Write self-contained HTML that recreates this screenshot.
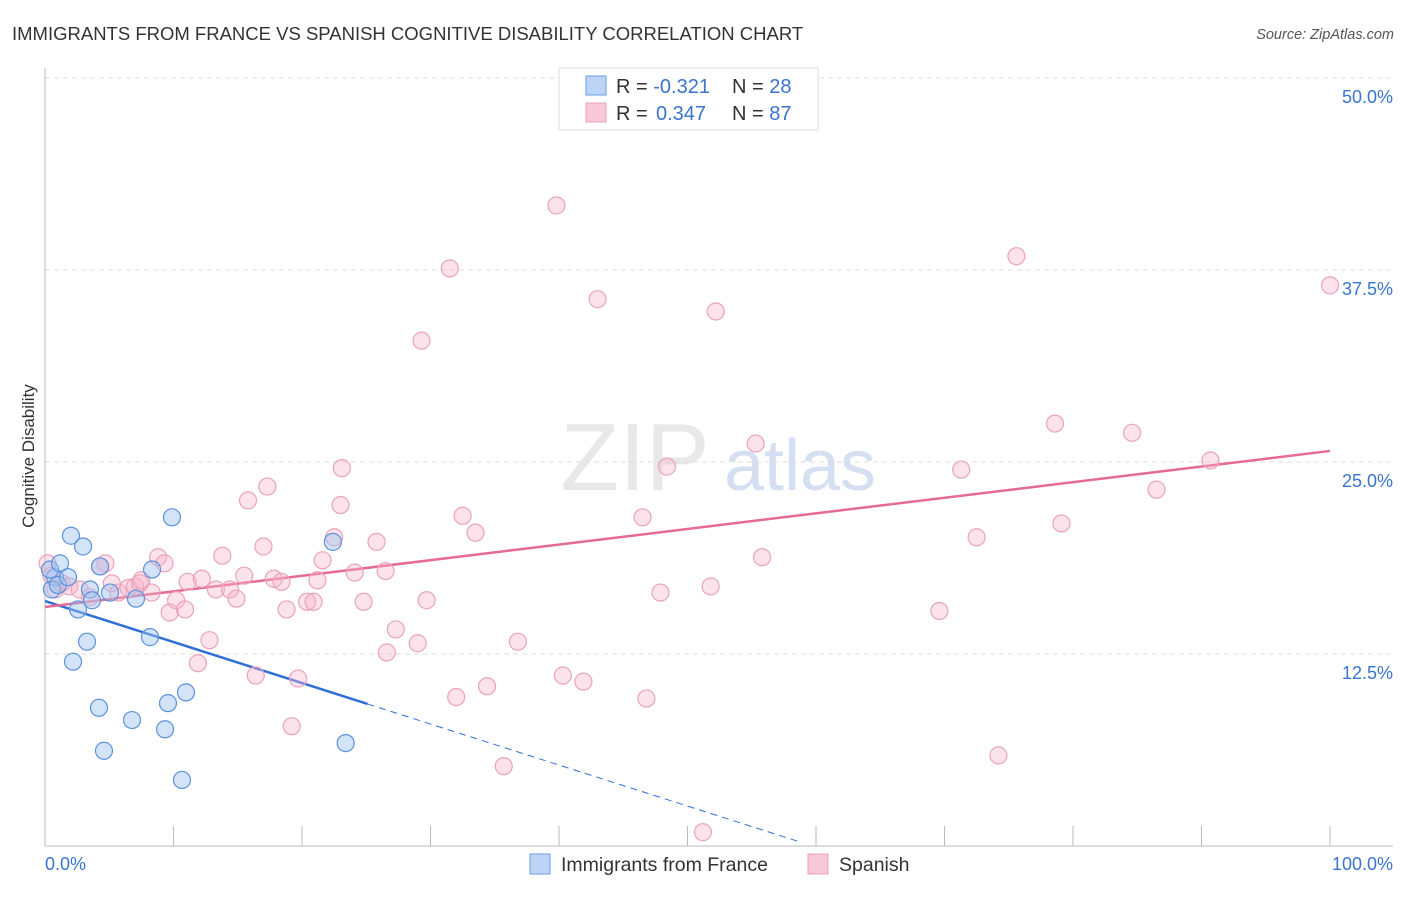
<!DOCTYPE html>
<html><head><meta charset="utf-8"><style>
body{margin:0;background:#fff;font-family:"Liberation Sans",sans-serif;}
svg text{font-family:"Liberation Sans",sans-serif;}
</style></head><body>
<svg id="chart" width="1406" height="892" xmlns="http://www.w3.org/2000/svg">
<text x="12" y="40" font-size="18.5" fill="#333">IMMIGRANTS FROM FRANCE VS SPANISH COGNITIVE DISABILITY CORRELATION CHART</text>
<text x="1394" y="39" font-size="14.5" fill="#555" text-anchor="end" font-style="italic">Source: ZipAtlas.com</text>
<g>
<text x="635" y="490" font-size="96" fill="#d9d9d9" font-family="Liberation Serif" text-anchor="middle" opacity="0.6">ZIP</text>
<text x="800" y="490" font-size="72" fill="#b8cdea" text-anchor="middle" opacity="0.6">atlas</text>
</g>
<g id="grid"></g>
<g id="axes"></g>
<text transform="translate(34,456) rotate(-90)" font-size="17" fill="#333" text-anchor="middle">Cognitive Disability</text>
<g id="trend"></g>
<g id="points"></g>
<g>
<rect x="559" y="68" width="259" height="62" fill="#fff" stroke="#ddd"/>
<rect x="586" y="76" width="20" height="19" fill="#bcd4f5" stroke="#6a9de0"/>
<rect x="586" y="103" width="20" height="19" fill="#f9c8d6" stroke="#eaa0b8"/>
<text x="616" y="93" font-size="20" fill="#333">R = <tspan fill="#3a74d0">-0.321</tspan><tspan x="732">N = </tspan><tspan fill="#3a74d0">28</tspan></text>
<text x="616" y="120" font-size="20" fill="#333">R = <tspan fill="#3a74d0" x="656">0.347</tspan><tspan x="732">N = </tspan><tspan fill="#3a74d0">87</tspan></text>
</g>
<g>
<rect x="530" y="854" width="20" height="20" fill="#bcd4f5" stroke="#6a9de0"/>
<text x="561" y="871" font-size="19.5" fill="#333">Immigrants from France</text>
<rect x="808" y="854" width="20" height="20" fill="#f9c8d6" stroke="#eaa0b8"/>
<text x="839" y="871" font-size="19.5" fill="#333">Spanish</text>
</g>
</svg>
<script>
const yTicks=[12.5,25.0,37.5,50.0];
const yTickLabels=["12.5%","25.0%","37.5%","50.0%"];
const xTickLabels=["0.0%","100.0%"];
const franceX=[0.78,0.39,1.17,0.54,1.01,1.79,2.02,2.96,2.57,3.27,2.18,3.5,3.66,4.28,4.2,4.59,5.06,6.77,7.08,8.17,8.33,9.34,9.57,9.88,10.66,10.97,22.4,23.4];
const franceY=[17.5,18.0,18.4,16.7,17.0,17.5,20.2,19.5,15.4,13.3,12.0,16.7,16.0,18.2,9.0,6.2,16.5,8.2,16.1,13.6,18.0,7.6,9.3,21.4,4.3,10.0,19.8,6.7];
const spanishX=[0.2,0.5,0.8,1.3,1.9,2.7,3.5,4.3,4.7,5.2,5.7,6.5,7.0,7.4,7.5,8.3,8.8,9.3,9.7,10.2,10.9,11.1,12.2,12.8,11.9,13.3,13.8,14.4,14.9,15.5,15.8,16.4,17.0,17.3,17.8,18.4,18.8,19.2,19.7,20.4,20.9,21.2,21.6,22.5,23.0,23.1,24.1,24.8,25.8,26.5,26.6,27.3,29.0,29.3,29.7,31.5,32.0,32.5,33.5,34.4,35.7,36.8,39.8,40.3,41.9,43.0,46.5,46.8,47.9,48.4,51.2,51.8,52.2,55.3,55.8,69.6,71.3,72.5,74.2,75.6,78.6,79.1,84.6,86.5,90.7,100.0];
const spanishY=[18.4,17.6,16.7,17.1,16.9,16.7,16.2,18.2,18.4,17.1,16.5,16.8,16.9,17.1,17.3,16.5,18.8,18.4,15.2,16.0,15.4,17.2,17.4,13.4,11.9,16.7,18.9,16.7,16.1,17.6,22.5,11.1,19.5,23.4,17.4,17.2,15.4,7.8,10.9,15.9,15.9,17.3,18.6,20.1,22.2,24.6,17.8,15.9,19.8,17.9,12.6,14.1,13.2,32.9,16.0,37.6,9.7,21.5,20.4,10.4,5.2,13.3,41.7,11.1,10.7,35.6,21.4,9.6,16.5,24.7,0.9,16.9,34.8,26.2,18.8,15.3,24.5,20.1,5.9,38.4,27.5,21.0,26.9,23.2,25.1,36.5];
const franceTrend=[15.95,-0.267]; const franceSolidEnd=25.1, franceDashEnd=58.8;
const spanishTrend=[15.56,0.1016];
const NS="http://www.w3.org/2000/svg";
const X=v=>45+v*12.85, Y=v=>846-v*15.36;
function mk(tag,attrs,parent){const e=document.createElementNS(NS,tag);for(const k in attrs)e.setAttribute(k,attrs[k]);parent.appendChild(e);return e;}
const grid=document.getElementById('grid'),axes=document.getElementById('axes');
yTicks.forEach((t,i)=>{
 const l=mk('line',{x1:45,x2:1393,y1:Y(t),y2:Y(t),stroke:'#ddd','stroke-dasharray':'5,4'},grid);
 
 
 const tx=mk('text',{x:1393,y:Y(t)+25,'font-size':18,fill:'#3a74d0','text-anchor':'end'},axes);
 tx.textContent=yTickLabels[i];
 
 
});
mk('line',{x1:45,x2:45,y1:68,y2:846,stroke:'#bbb'},axes);
mk('line',{x1:45,x2:1393,y1:846,y2:846,stroke:'#bbb'},axes);
for(let i=0;i<=10;i++){const l=mk('line',{x1:X(i*10),x2:X(i*10),y1:826,y2:846,stroke:'#bbb'},axes);
 
 }
const xl0=mk('text',{x:45,y:870,'font-size':18,fill:'#3a74d0'},axes);xl0.textContent=xTickLabels[0];


const xl1=mk('text',{x:1393,y:870,'font-size':18,fill:'#3a74d0','text-anchor':'end'},axes);xl1.textContent=xTickLabels[1];


const pts=document.getElementById('points');
spanishX.forEach((x,i)=>{const c=mk('circle',{cx:X(x),cy:Y(spanishY[i]),r:8.5,fill:'rgba(248,180,202,0.38)',stroke:'#eaa3bb','stroke-width':1.2},pts);
 
 });
franceX.forEach((x,i)=>{const c=mk('circle',{cx:X(x),cy:Y(franceY[i]),r:8.5,fill:'rgba(160,196,240,0.45)',stroke:'#5b92dc','stroke-width':1.2},pts);
 
 });
const tr=document.getElementById('trend');
const f=x=>franceTrend[0]+franceTrend[1]*x, s=x=>spanishTrend[0]+spanishTrend[1]*x;
const t1=mk('line',{x1:X(0),y1:Y(f(0)),x2:X(franceSolidEnd),y2:Y(f(franceSolidEnd)),stroke:'#2f6fd6','stroke-width':2.5},tr);


const t2=mk('line',{x1:X(franceSolidEnd),y1:Y(f(franceSolidEnd)),x2:X(franceDashEnd),y2:Y(f(franceDashEnd)),stroke:'#2f6fd6','stroke-width':1,'stroke-dasharray':'7,5'},tr);


const t3=mk('line',{x1:X(0),y1:Y(s(0)),x2:X(100),y2:Y(s(100)),stroke:'#e56a94','stroke-width':2.5},tr);


</script>
</body></html>
